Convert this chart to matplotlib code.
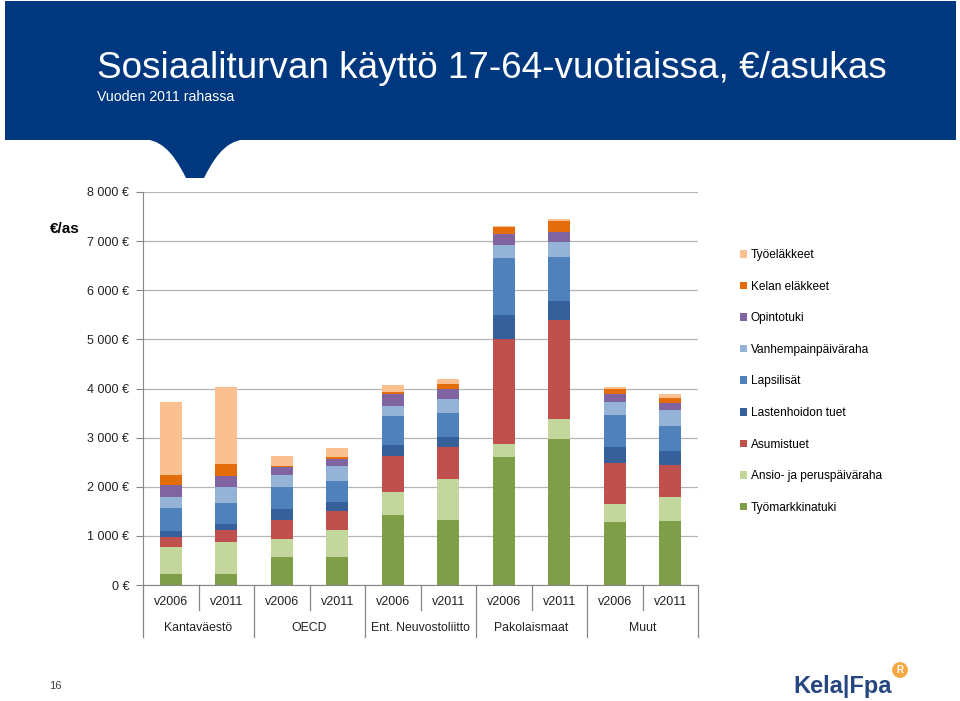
import matplotlib.pyplot as plt
import numpy as np
from matplotlib.patches import Rectangle, PathPatch
from matplotlib.path import Path
from matplotlib.ticker import FuncFormatter

plt.rcParams['font.family'] = ['Liberation Sans', 'DejaVu Sans']

# ryhmät ja vuodet
groups = ["Kantaväestö", "OECD", "Ent. Neuvostoliitto", "Pakolaismaat", "Muut"]
years = ["v2006", "v2011"]

# €/asukas, luettu kuvasta (järjestys alhaalta ylös)
tyomarkkinatuki = [224, 224, 577, 563, 1432, 1324, 2601, 2974, 1283, 1297]
ansio_peruspaivaraha = [556, 658, 360, 557, 462, 829, 277, 401, 360, 495]
asumistuet = [191, 231, 394, 387, 733, 664, 2126, 2022, 848, 658]
lastenhoidon_tuet = [129, 129, 224, 190, 231, 191, 495, 387, 326, 273]
lapsilisat = [462, 421, 434, 428, 577, 501, 1167, 896, 639, 521]
vanhempainpaivaraha = [236, 326, 251, 305, 204, 279, 265, 300, 265, 320]
opintotuki = [238, 231, 157, 130, 251, 197, 218, 196, 169, 136]
kelan_elakkeet = [204, 244, 33, 54, 47, 109, 136, 237, 95, 115]
tyoelakkeet = [1481, 1562, 197, 170, 136, 108, 15, 41, 48, 75]

series = [
    ("Työmarkkinatuki", tyomarkkinatuki, "#7F9E48"),
    ("Ansio- ja peruspäiväraha", ansio_peruspaivaraha, "#C3D69B"),
    ("Asumistuet", asumistuet, "#C0504D"),
    ("Lastenhoidon tuet", lastenhoidon_tuet, "#36609A"),
    ("Lapsilisät", lapsilisat, "#4F81BD"),
    ("Vanhempainpäiväraha", vanhempainpaivaraha, "#95B3D7"),
    ("Opintotuki", opintotuki, "#8064A2"),
    ("Kelan eläkkeet", kelan_elakkeet, "#E46C0A"),
    ("Työeläkkeet", tyoelakkeet, "#FAC090"),
]

W, H = 960, 701
def fx(x):
    return x / W
def fy(y):
    return 1 - y / H

fig = plt.figure(figsize=(9.6, 7.01), dpi=100)

# otsikkopalkki
blue = "#00387F"
fig.patches.append(Rectangle((fx(5), fy(140)), fx(951), 139 / H, transform=fig.transFigure,
                             facecolor=blue, edgecolor="none"))
verts = [(140, 139), (160, 139), (172, 150), (186, 178), (204, 178),
         (218, 150), (230, 139), (250, 139), (140, 139)]
codes = [Path.MOVETO, Path.CURVE4, Path.CURVE4, Path.CURVE4, Path.LINETO,
         Path.CURVE4, Path.CURVE4, Path.CURVE4, Path.CLOSEPOLY]
notch = Path([(fx(a), fy(b)) for a, b in verts], codes)
fig.patches.append(PathPatch(notch, transform=fig.transFigure, facecolor=blue, edgecolor="none"))

fig.text(fx(97), fy(68), "Sosiaaliturvan käyttö 17-64-vuotiaissa, €/asukas", color="white",
         fontsize=26.6, va="center", ha="left")
fig.text(fx(97), fy(97), "Vuoden 2011 rahassa", color="white", fontsize=10.2, va="center", ha="left")

ax = fig.add_axes([fx(143), fy(585), (698 - 143) / W, (585 - 192) / H])
x = np.arange(len(groups) * len(years))
bottom = np.zeros(len(x))
for name, vals, col in series:
    ax.bar(x, vals, width=0.4, bottom=bottom, color=col, linewidth=0, label=name)
    bottom += np.array(vals)

ax.set_xlim(-0.5, len(x) - 0.5)
ax.set_ylim(0, 8000)
ax.set_yticks(range(0, 8001, 1000))
ax.yaxis.set_major_formatter(FuncFormatter(lambda v, p: f"{int(v):,} €".replace(",", " ")))
ax.tick_params(axis="y", length=5, color="#868686", labelsize=9, pad=5, labelcolor="#222222")
ax.set_xticks([])
ax.yaxis.grid(True, color="#B5B5B5", linewidth=0.9)
ax.set_axisbelow(True)
for s in ["top", "right"]:
    ax.spines[s].set_visible(False)
for s in ["left", "bottom"]:
    ax.spines[s].set_color("#868686")

# kaksitasoinen luokka-akseli
tr = ax.get_xaxis_transform()
y1 = -(610 - 585) / 393
y2 = -(637 - 585) / 393
for i in range(len(x) + 1):
    low = y2 if i % 2 == 0 else y1
    ax.plot([i - 0.5, i - 0.5], [0, low], transform=tr, color="#868686", linewidth=0.9, clip_on=False)
for i in x:
    ax.text(i, -(602 - 585) / 393, years[i % 2], transform=tr, ha="center", va="center",
            fontsize=9, color="#222222")
for g, name in enumerate(groups):
    ax.text(2 * g + 0.5, -(628 - 585) / 393, name, transform=tr, ha="center", va="center",
            fontsize=8.8, color="#222222")

fig.text(fx(50), fy(229), "€/as", fontsize=11, fontweight="bold", ha="left", va="center")

handles, labels = ax.get_legend_handles_labels()
ax.legend(handles[::-1], labels[::-1], loc="upper left", bbox_to_anchor=(fx(740), fy(249)),
          bbox_transform=fig.transFigure, frameon=False, fontsize=8.6, handlelength=0.6,
          handleheight=0.6, handletextpad=0.3, labelspacing=1.64, borderpad=0, borderaxespad=0)

fig.text(fx(55), fy(686), "16", fontsize=8, ha="center", va="center", color="#404040")
fig.text(fx(793), fy(686), "Kela|Fpa", fontsize=17, fontweight="bold", color="#26467F",
         ha="left", va="center")
fig.text(fx(900), fy(670), "R", fontsize=7, fontweight="bold", color="white", ha="center", va="center",
         bbox=dict(boxstyle="circle,pad=0.3", facecolor="#F6A843", edgecolor="none"))

fig.savefig("out.png", dpi=100)
